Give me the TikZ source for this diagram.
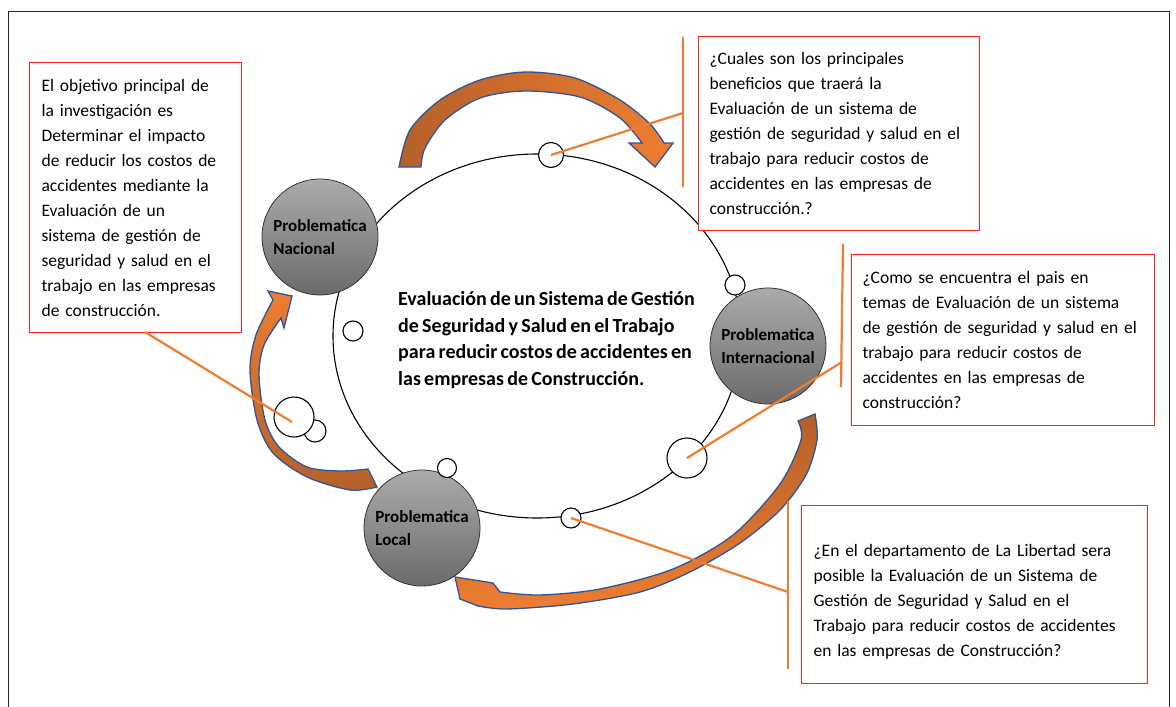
\documentclass[tikz,border=0pt]{standalone}
\usepackage{fontspec}
\setmainfont{Carlito}
\newfontfamily\temafont[WordSpace=0.72]{Carlito}
\usetikzlibrary{positioning}
\definecolor{boxred}{HTML}{FF1F1F}
\definecolor{leadorange}{HTML}{ED7D31}
\definecolor{arrowbrown}{HTML}{B5602A}
\definecolor{arrowblue}{HTML}{2F5597}

\begin{document}
\begin{tikzpicture}
    [
        x=1pt, y=-1pt,
        qbox/.style={rectangle, draw=boxred, line width=1.2pt, fill=white, anchor=north west, align=left, inner xsep=12pt, inner ysep=0pt, font=\fontsize{17.5}{25}\selectfont},
        problem/.style={circle, draw=black!80, line width=0.8pt, top color=black!33, bottom color=black!58, minimum size=116pt, inner sep=0pt, align=left, font=\bfseries\fontsize{17}{23}\selectfont},
        dot/.style={circle, draw=black, line width=1.1pt, fill=white, inner sep=0pt},
        leader/.style={draw=leadorange, line width=2.2pt},
        blockarrow/.style={draw=arrowblue, line width=1.3pt}
    ]
    \useasboundingbox (0,0) rectangle (1176,707);
    \draw[line width=0.8pt, black!85] (8,11) rectangle (1169,730);

    % Cycle
    \draw[line width=1.1pt] (537,336) ellipse [x radius=204, y radius=182];

    % Curved arrows
    \draw[blockarrow, left color=arrowbrown, right color=leadorange]
        plot[smooth] coordinates {(399,167) (410,130) (440,100) (480,80) (525,72) (575,78) (620,100) (650,124) (664,143)}
        -- (673,143) -- (655,167) -- (629,143) --
        plot[smooth] coordinates {(642,143) (620,118) (580,97) (525,91) (480,98) (445,120) (425,148) (421,167)}
        -- cycle;
    \draw[blockarrow, top color=leadorange, bottom color=arrowbrown]
        plot[smooth] coordinates {(377,487) (350,490) (307,477) (273,453) (257,420) (250,370) (256,335) (273,300)}
        -- (268,291) -- (292,296) -- (284,328) --
        plot[smooth] coordinates {(281,318) (264,345) (259,375) (265,420) (279,447) (307,467) (340,471) (368,469)}
        -- cycle;
    \draw[blockarrow, top color=arrowbrown, bottom color=leadorange]
        plot[smooth] coordinates {(815,414) (817,440) (806,475) (780,510) (740,543) (690,572) (640,592) (573,604) (507,609) (478,606)}
        -- (460,599) -- (455,577) -- (493,583) --
        plot[smooth] coordinates {(500,592) (540,595) (600,589) (673,569) (733,535) (780,484) (801,440) (798,421)}
        -- cycle;

    % Nodes
    \node[problem] (nacional) at (320,237) {Problematica\\Nacional};
    \node[problem] (internacional) at (768,346) {Problematica\\Internacional};
    \node[problem] (local) at (422,528) {Problematica\\Local};

    \node[dot, minimum width=21pt, minimum height=25pt] (dtop) at (551,155) {};
    \node[dot, minimum size=20pt] (dright) at (735,285) {};
    \node[dot, minimum size=40pt] (dbigright) at (687,458) {};
    \node[dot, minimum size=20pt] (dbottom) at (571,518) {};
    \node[dot, minimum size=19pt] (dlocal) at (447,468) {};
    \node[dot, minimum size=20pt] (dleft) at (353,331) {};
    \node[dot, minimum size=22pt] (dsmallleft) at (315,431) {};
    \node[dot, minimum size=40pt] (dbigleft) at (294,417) {};

    \node[font=\temafont\bfseries\fontsize{20}{26.7}\selectfont, align=left, anchor=west, inner sep=0pt] (tema) at (398,340)
        {Evaluación de un Sistema de Gestión\\de Seguridad y Salud en el Trabajo\\para reducir costos de accidentes en\\las empresas de Construcción.};

    \node[qbox, minimum width=212pt, minimum height=270pt, text width=188pt] (objetivo) at (29,62)
        {El objetivo principal de\\la investigación es\\Determinar el impacto\\de reducir los costos de\\accidentes mediante la\\Evaluación de un\\sistema de gestión de\\seguridad y salud en el\\trabajo en las empresas\\de construcción.};
    \node[qbox, inner xsep=11pt, minimum width=281pt, minimum height=194pt, text width=259pt] (beneficios) at (698,36)
        {¿Cuales son los principales\\beneficios que traerá la\\Evaluación de un sistema de\\gestión de seguridad y salud en el\\trabajo para reducir costos de\\accidentes en las empresas de\\construcción.?};
    \node[qbox, inner xsep=11pt, minimum width=303pt, minimum height=171pt, text width=281pt] (pais) at (851,254)
        {¿Como se encuentra el pais en\\temas de Evaluación de un sistema\\de gestión de seguridad y salud en el\\trabajo para reducir costos de\\accidentes en las empresas de\\construcción?};
    \node[qbox, minimum width=346pt, minimum height=178pt, text width=322pt] (libertad) at (801,505)
        {\rule{0pt}{27pt}¿En el departamento de La Libertad sera\\posible la Evaluación de un Sistema de\\Gestión de Seguridad y Salud en el\\Trabajo para reducir costos de accidentes\\en las empresas de Construcción?};

    % Leaders
    \coordinate (b2top) at (683,37);
    \coordinate (b2bot) at (683,187);
    \coordinate (b2mid) at (683,113);
    \coordinate (b3top) at (843,244);
    \coordinate (b3bot) at (841,387);
    \coordinate (b3mid) at (842,362);
    \coordinate (b4top) at (788,501);
    \coordinate (b4bot) at (788,669);
    \coordinate (b4mid) at (788,592);
    \coordinate (b1foot) at (145,332);

    \draw[leader] (b2top) -- (b2bot);
    \draw[leader] (b3top) -- (b3bot);
    \draw[leader] (b4top) -- (b4bot);
    \draw[leader] (dtop.center) -- (b2mid);
    \draw[leader] (dbigright.center) -- (b3mid);
    \draw[leader] (dbottom.center) -- (b4mid);
    \draw[leader] (b1foot) -- ([shift={(-2,5)}]dbigleft.center);
\end{tikzpicture}
\end{document}
